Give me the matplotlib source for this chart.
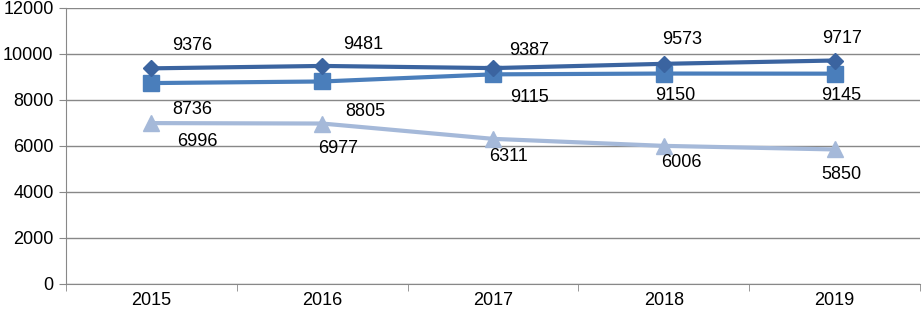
import matplotlib.pyplot as plt

plt.rcParams['font.family'] = ['Liberation Sans', 'DejaVu Sans']

years = ["2015", "2016", "2017", "2018", "2019"]
series_a = [9376, 9481, 9387, 9573, 9717]
series_b = [8736, 8805, 9115, 9150, 9145]
series_c = [6996, 6977, 6311, 6006, 5850]

# label offsets in pixels (dx, dy)
offs_a = [(41, 23), (41, 21), (36, 18), (18, 24), (7, 22)]
offs_b = [(41, -26), (43, -30), (36, -23), (11, -22), (7, -22)]
offs_c = [(46, -18), (16, -25), (15, -18), (18, -17), (7, -25)]


def plot_chart():
    fig = plt.figure(figsize=(9.22, 3.13), dpi=100)
    ax = fig.add_axes([66 / 922, 29 / 313, 854 / 922, 276 / 313])
    x = list(range(len(years)))

    ax.plot(x, series_a, color="#3b64a0", lw=3, marker="D", ms=8, zorder=4)
    ax.plot(x, series_b, color="#4a7ebb", lw=3, marker="s", ms=11, zorder=3)
    ax.plot(x, series_c, color="#a5b9d9", lw=3, marker="^", ms=11, zorder=3)

    for vals, offs in [(series_a, offs_a), (series_b, offs_b), (series_c, offs_c)]:
        for i, v in enumerate(vals):
            dx, dy = offs[i]
            ax.annotate(str(v), (i, v), xytext=(dx * 0.72, dy * 0.72),
                        textcoords="offset points", ha="center", va="center",
                        fontsize=13, color="black", zorder=5)

    ax.set_xlim(-0.5, 4.5)
    ax.set_ylim(0, 12000)
    ax.set_yticks(range(0, 12001, 2000))
    ax.set_xticks(x)
    ax.set_xticklabels(years)
    ax.set_xticks([i - 0.5 for i in range(6)], minor=True)
    ax.tick_params(axis="x", which="major", length=0, labelsize=13, pad=6)
    ax.tick_params(axis="x", which="minor", length=5, color="#888888")
    ax.tick_params(axis="y", length=5, color="#888888", labelsize=13, pad=4)

    ax.grid(axis="y", color="#888888", lw=1)
    ax.set_axisbelow(True)
    for s in ["top", "right"]:
        ax.spines[s].set_visible(False)
    for s in ["left", "bottom"]:
        ax.spines[s].set_color("#888888")

    fig.savefig("out.png", dpi=100)


def main():
    plot_chart()


main()
